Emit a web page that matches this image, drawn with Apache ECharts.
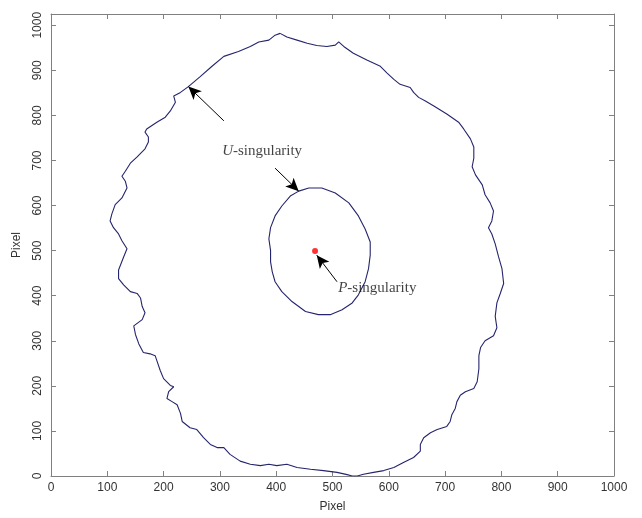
<!DOCTYPE html>
<html>
<head>
<meta charset="utf-8">
<script src="https://cdn.jsdelivr.net/npm/echarts@6/dist/echarts.min.js"></script>
<style>
html,body{margin:0;padding:0;background:#fff;}
#chart{width:642px;height:518px;}
</style>
</head>
<body>
<div id="chart"></div>
<script>
// Outer contour (U-singularity boundary), [x, y] in pixel units
const outerContour = [
  [407,982],[419,974],[437,967],[455,960],[472,955],[490,953],[505,956],[511,963],[520,953],[537,938],
  [561,923],[585,909],[597,894],[609,880],[620,869],[638,862],[644,851],[653,840],[665,832],
  [680,821],[703,803],[724,785],[733,770],[745,748],[751,730],[751,705],[748,686],[754,668],[766,646],
  [771,624],[780,606],[786,588],[783,566],[777,551],[783,537],[789,515],[795,486],
  [801,460],[804,427],[798,405],[792,384],[789,354],[792,329],[786,311],[771,300],[763,285],[760,267],
  [760,238],[757,209],[751,194],[736,187],[727,179],[721,165],[718,150],[712,136],[709,121],[703,110],
  [686,103],[674,96],[662,85],
  [656,70],[656,55],[644,41],[626,30],[609,19],[591,12],[573,8],[555,4],[544,0],[535,0],
  [526,3],[508,8],[484,12],[461,15],[437,19],[419,26],[401,23],[387,26],[372,23],[354,26],
  [336,33],[318,48],[307,63],[295,63],[283,70],[271,85],[259,103],[247,107],
  [233,121],[230,139],[224,158],[215,165],[206,172],[209,187],[218,198],[212,201],[200,216],[194,234],
  [188,256],[185,267],[176,271],[164,274],[156,293],[150,314],[147,333],[162,347],[167,362],[162,376],
  [159,395],[153,405],[141,409],[129,424],[120,438],[120,457],[129,486],
  [135,504],[126,522],[120,537],[111,551],[105,566],[108,581],[114,602],[126,617],[135,639],[132,654],
  [126,665],[132,676],[141,694],[153,708],[167,726],[173,741],[173,752],[167,763],[170,770],[188,785],
  [203,796],[212,810],[221,829],[218,843],[230,851],[244,864],[265,886],[286,909],[307,931],[333,942],
  [354,953],[369,963],[387,967],[398,978],[407,982]
];
// Inner contour
const innerContour = [
  [440,632],[458,639],[481,639],[505,628],[529,606],[546,577],[558,548],[567,519],[567,490],[564,460],
  [558,431],[546,402],[535,384],[517,369],[496,358],[475,358],[452,365],[428,387],[410,409],[398,431],
  [393,453],[390,475],[390,500],[387,526],[390,551],[398,577],[410,599],[425,621],[440,632]
];
// P-singularity point
const pPoint = [[469,499]];
// Annotation arrows: [tail, tip]
const arrows = [
  [[307,788],[244,864]],
  [[398,683],[440,632]],
  [[508,431],[472,490]]
];
// Annotation labels: [x, y, italic letter, rest, placement]
const labels = [
  [375,722,'U','-singularity','inside'],
  [510,416,'P','-singularity','right']
];
const xTicks = [0,100,200,300,400,500,600,700,800,900,1000];
const yTicks = [0,100,200,300,400,500,600,700,800,900,1000];

const chart = echarts.init(document.getElementById('chart'));
const axisGrey = '#808080';
const labelColor = '#333';
const sans = '"Liberation Sans",Arial,sans-serif';
const serif = '"Liberation Serif","DejaVu Serif",serif';

function axis(extra, ticks) {
  return Object.assign({
    type:'value', min:0, interval:100,
    axisLine:{show:true,onZero:false,lineStyle:{color:axisGrey,width:1}},
    axisTick:{show:true,inside:true,length:5,lineStyle:{color:axisGrey},customValues:ticks},
    splitLine:{show:false}
  }, extra);
}

const option = {
  animation:false,
  backgroundColor:'#fff',
  grid:{left:51,right:28,top:14,bottom:36,containLabel:false},
  xAxis:[
    axis({
      position:'bottom', max:1000,
      name:'Pixel', nameLocation:'middle', nameGap:25,
      nameTextStyle:{fontFamily:sans,fontSize:12,color:labelColor},
      axisLabel:{show:true,margin:6,fontFamily:sans,fontSize:12,color:labelColor,customValues:xTicks,formatter:v=>String(v)}
    }, xTicks),
    axis({position:'top', max:1000, axisLabel:{show:false}}, xTicks)
  ],
  yAxis:[
    axis({
      position:'left', max:1025,
      name:'Pixel', nameLocation:'middle', nameGap:28, nameRotate:90,
      nameTextStyle:{fontFamily:sans,fontSize:12,color:labelColor},
      axisLabel:{show:true,rotate:90,margin:7,fontFamily:sans,fontSize:12,color:labelColor,customValues:yTicks,formatter:v=>String(v)}
    }, yTicks),
    axis({position:'right', max:1025, axisLabel:{show:false}}, yTicks)
  ],
  series:[
    {
      type:'line', data:outerContour, showSymbol:false, symbol:'none', silent:true,
      lineStyle:{color:'#25256e',width:1.1}
    },
    {
      type:'line', data:innerContour, showSymbol:false, symbol:'none', silent:true,
      lineStyle:{color:'#25256e',width:1.1}
    },
    {
      type:'scatter', data:pPoint, symbolSize:6, itemStyle:{color:'#ff0000'}, silent:true, z:5
    },
    {
      type:'line', data:[], silent:true,
      markLine:{
        silent:true, animation:false,
        symbol:['none','arrow'], symbolSize:[9,13],
        lineStyle:{color:'#000',width:1,type:'solid'},
        itemStyle:{color:'#000'},
        label:{show:false},
        emphasis:{disabled:true},
        data: arrows.map(a => [{coord:a[0]},{coord:a[1]}])
      }
    },
    {
      type:'scatter', silent:true, symbolSize:0,
      data: labels.map(l => ({value:[l[0],l[1]], label:{position:l[4]}})),
      label:{
        show:true, distance:0,
        formatter: p => '{i|' + labels[p.dataIndex][2] + '}{n|' + labels[p.dataIndex][3] + '}',
        rich:{
          i:{fontFamily:serif,fontStyle:'italic',fontSize:15,color:'#111'},
          n:{fontFamily:serif,fontSize:15,color:'#111'}
        }
      },
      z:6
    }
  ]
};
chart.setOption(option);
</script>
</body>
</html>
